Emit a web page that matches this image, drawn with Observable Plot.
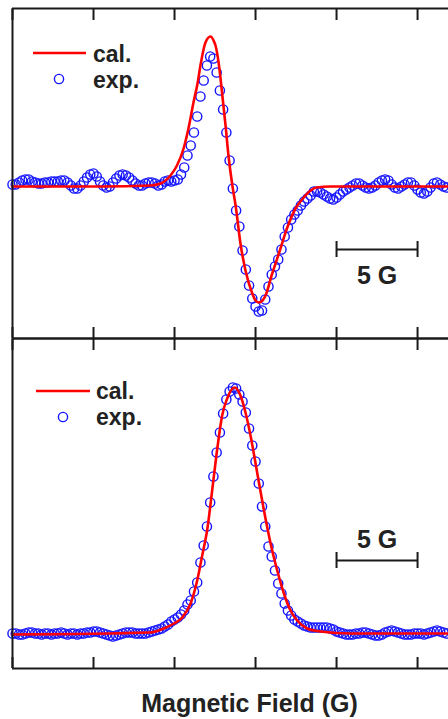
<!DOCTYPE html>
<html>
<head>
<meta charset="utf-8">
<script src="https://cdn.jsdelivr.net/npm/d3@7"></script>
<script src="https://cdn.jsdelivr.net/npm/@observablehq/plot@0.6"></script>
<style>
  html, body { margin: 0; padding: 0; background: #fff; }
  body { width: 448px; height: 719px; overflow: hidden; position: relative; font-family: "Liberation Sans", Arial, Helvetica, sans-serif; }
  #p1, #p2 { position: absolute; left: 0; }
  #p1 { top: 0; }
  #p2 { top: 330px; }
  #xlabel { position: absolute; left: 0; width: 499px; top: 691px; line-height: 25px; text-align: center;
            font-weight: bold; font-size: 25px; color: #222; white-space: nowrap; }
</style>
</head>
<body>
<div id="p1"></div>
<div id="p2"></div>
<div id="xlabel">Magnetic Field (G)</div>
<script>
// ---------------- data ----------------
const xTitle = "Magnetic Field (G)";
const xTicks = [0, 5, 10, 15, 20, 25];          // G
const xDomain = [0, 26.91];
const fieldStart = 0;     // G, first experimental point
const fieldStep = 0.2;    // G, field increment between experimental points
const legendLabels = ["cal.", "exp."];
const scaleBarLabel = "5 G";
const scaleBarField = [20, 25];

// top panel (derivative spectrum), arbitrary units
const topDomain = [-152, 178];
const topExp = [
  2,2,4,6,7,7,5,4,3,3, 4,4,5,5,5,6,6,4,1,-2, -2,1,5,9,12,13,10,5,1,-1,
  0,4,8,11,12,11,9,6,3,1, 1,3,4,4,3,1,2,5,6,5, 6,7,
  12,19,31,41,54,70,90,106,121,130, 128,114,96,77,54,26,-2,-24,-40,-64,
  -83,-99,-112,-120,-125,-124,-113,-100,-88,-80, -73,-63,-50,-41,-33,-28,-24,-19,-15,-12,
  -9,-5,
  -5,-6,-8,-10,-12,-13,-11,-8,-5,-3, -1,1,3,3,1,-1,-2,-1,1,4,
  6,7,6,2,-1,-2,0,2,4,4, 1,-3,-6,-7,-5,-1,3,4,2,0, -1
];
const topCalField = [0,5.43,8.52,9.14,9.75,10.12,10.56,10.86,11.17,11.42,
  11.60,11.91,12.22,12.41,12.53,12.72,12.84,13.15,13.33,13.58,
  13.77,14.07,14.38,14.80,15.00,15.20,15.43,15.62,16.03,16.44,
  16.96,17.47,17.98,18.40,18.77,19.63,26.91];
const topCal = [0,0,1,3,11,20,38,58,84,103,
  121,144,150,146,141,124,108,61,31,0,
  -19,-57,-84,-107,-114,-116,-114,-109,-87,-67,
  -41,-22,-11,-4,-1,0,0];
const topScaleBarY = -63;

// bottom panel (absorption spectrum), arbitrary units
const botDomain = [-35, 295];
const botExp = [
  0,0,-1,-1,0,1,1,0,0,-1, 0,0,-1,0,0,1,0,-1,0,0,
  -1,0,0,1,1,2,2,1,0,-1, -2,-3,-2,-1,0,1,1,1,0,0,
  0,0,1,2,3,4,5,7,9,12, 14,16,19,23,29,33,42,51,71,88,
  107,131,157,181,201,220,234,242,246,245, 239,232,221,205,188,172,150,127,107,87,
  77,63,50,40,30,23,18,14,12,10, 8,7,6,6,6,6,6,6,5,4,
  2,1,0,-1,-1,-1,0,0,1,1, 0,-1,-2,-2,-1,1,2,3,2,1,
  0,-1,-1,-1,0,0,0,-1,0,1, 2,3,2,1,0
];
const botCalField = [0,8.52,9.34,9.96,10.48,10.99,11.40,11.71,12.02,12.36,
  12.64,12.94,13.25,13.70,14.07,14.38,14.69,15.10,15.51,15.93,
  16.34,16.75,17.16,17.57,18.19,19.01,20.86,26.91];
const botCal = [-1,1,5,10,16,30,53,78,104,148,
  185,218,235,246,238,221,198,161,124,90,
  63,40,23,13,5,2,0,0];
const botScaleBarY = 73;

// ---------------- styles ----------------
const BLUE = "#1414ff", RED = "#ff0000", INK = "#1a1a1a", TEXT = "#222";
const FONT = "'Liberation Sans', Arial, Helvetica, sans-serif";

function panel({exp, calField, cal, domain, barY, barTextDy, height, marginTop, marginBottom, legend}) {
  const expData = exp.map((v, i) => ({field: fieldStart + i * fieldStep, v}));
  const calData = calField.map((f, i) => ({field: f, v: cal[i]}));
  const bar = [{x1: scaleBarField[0], x2: scaleBarField[1], y: barY}];
  const axisOpts = {tickSize: -11, tickFormat: () => "", stroke: INK, strokeWidth: 2, label: null};
  const svg = Plot.plot({
    width: 448, height, marginTop, marginBottom, marginLeft: 12, marginRight: 0,
    style: {background: "transparent", overflow: "visible"},
    x: {domain: xDomain, axis: null},
    y: {domain, axis: null},
    marks: [
      Plot.dot(expData, {x: "field", y: "v", r: 4.6, stroke: BLUE, strokeWidth: 1.4, fill: "none"}),
      Plot.line(calData, {x: "field", y: "v", stroke: RED, strokeWidth: 2.6, curve: "monotone-x"}),
      Plot.ruleX([xDomain[0]], {stroke: INK, strokeWidth: 2}),
      Plot.ruleY(domain, {stroke: INK, strokeWidth: 2}),
      Plot.axisX(xTicks, {anchor: "top", ...axisOpts}),
      Plot.axisX(xTicks, {anchor: "bottom", ...axisOpts}),
      Plot.ruleY(bar, {x1: "x1", x2: "x2", y: "y", stroke: INK, strokeWidth: 2}),
      Plot.ruleX(scaleBarField, {x: d => d, y1: barY - 8, y2: barY + 8, stroke: INK, strokeWidth: 2}),
      Plot.text(bar, {x: d => (d.x1 + d.x2) / 2, y: "y", text: () => scaleBarLabel, dy: barTextDy,
        fontSize: 25, fontWeight: "bold", fontFamily: FONT, fill: TEXT})
    ]
  });
  const s = d3.select(svg);
  const g = s.append("g");
  g.append("line").attr("x1", legend.lx1).attr("x2", legend.lx2).attr("y1", legend.ly).attr("y2", legend.ly)
    .attr("stroke", RED).attr("stroke-width", 2.6);
  g.append("circle").attr("cx", legend.cx).attr("cy", legend.cy).attr("r", 4.6)
    .attr("fill", "none").attr("stroke", BLUE).attr("stroke-width", 1.4);
  g.selectAll("text").data(legendLabels).join("text")
    .attr("x", legend.tx).attr("y", (d, i) => legend.ty[i])
    .attr("text-anchor", "start")
    .attr("font-family", FONT).attr("font-weight", "bold").attr("font-size", 23).attr("fill", TEXT)
    .text(d => d);
  return svg;
}

document.getElementById("p1").append(panel({
  exp: topExp, calField: topCalField, cal: topCal, domain: topDomain,
  barY: topScaleBarY, barTextDy: 26, height: 340, marginTop: 8, marginBottom: 2,
  legend: {lx1: 33, lx2: 86, ly: 53, cx: 59, cy: 79, tx: 93, ty: [62, 88]}
}));
document.getElementById("p2").append(panel({
  exp: botExp, calField: botCalField, cal: botCal, domain: botDomain,
  barY: botScaleBarY, barTextDy: -21, height: 345, marginTop: 8, marginBottom: 7,
  legend: {lx1: 36, lx2: 90, ly: 61, cx: 63, cy: 87, tx: 96, ty: [69, 95]}
}));
document.getElementById("xlabel").textContent = xTitle;
</script>
</body>
</html>
